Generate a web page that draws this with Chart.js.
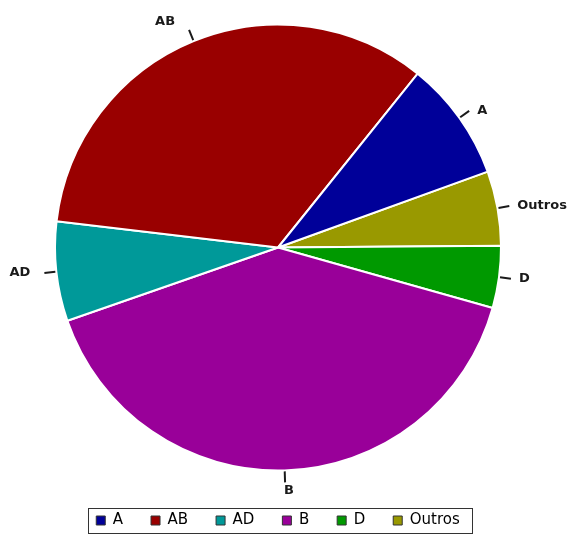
<!DOCTYPE html>
<html>
<head>
<meta charset="utf-8">
<script src="https://cdn.jsdelivr.net/npm/chart.js@4.4.1/dist/chart.umd.min.js"></script>
<style>
  html, body { margin: 0; padding: 0; background: #fff; }
  #wrap { width: 574px; height: 539px; position: relative; }
</style>
</head>
<body>
<div id="wrap"><canvas id="pie"></canvas></div>
<script>
// === DADOS (em %) ===
const categorias = ['A', 'AB', 'AD', 'B', 'D', 'Outros'];
const valores    = [8.7, 33.9, 7.2, 40.3, 4.5, 5.4];
const cores      = ['#000099', '#990000', '#009999', '#990099', '#009900', '#999900'];

// o gráfico original corre no sentido anti-horário -> inverte para o Chart.js
const ordem = categorias.map((c, i) => i).reverse();

// === RÓTULOS FORA DA PIZZA (com tracinho) ===
const rotulosFora = {
  id: 'rotulosFora',
  afterDatasetsDraw(chart) {
    const ctx = chart.ctx;
    const meta = chart.getDatasetMeta(0);
    ctx.save();
    ctx.font = 'bold 13px "DejaVu Sans"';
    ctx.fillStyle = '#1a1a1a';
    ctx.strokeStyle = '#1a1a1a';
    ctx.lineWidth = 2;
    meta.data.forEach((arc, i) => {
      const p = arc.getProps(['x', 'y', 'startAngle', 'endAngle', 'outerRadius'], true);
      const mid = (p.startAngle + p.endAngle) / 2;
      const cx = Math.cos(mid), cy = Math.sin(mid);
      const r0 = p.outerRadius + 1, r1 = p.outerRadius + 12;
      const ex = p.x + cx * r1, ey = p.y + cy * r1;
      ctx.beginPath();
      ctx.moveTo(p.x + cx * r0, p.y + cy * r0);
      ctx.lineTo(ex, ey);
      ctx.stroke();

      let tx = ex, ty = ey;
      if (cx > 0.2) { ctx.textAlign = 'left'; tx += 8; }
      else if (cx < -0.2) { ctx.textAlign = 'right'; tx -= 14; }
      else { ctx.textAlign = 'center'; tx += 4; }
      if (Math.abs(cy) > 0.8) ty += 8 * Math.sign(cy);
      ctx.textBaseline = 'middle';
      ctx.fillText(chart.data.labels[i], tx, ty);
    });
    ctx.restore();
  }
};

// === MOLDURA DA LEGENDA ===
const molduraLegenda = {
  id: 'molduraLegenda',
  afterDraw(chart) {
    const hb = chart.legend && chart.legend.legendHitBoxes;
    if (!hb || !hb.length) return;
    const left = Math.min(...hb.map(h => h.left)) - 8;
    const right = Math.max(...hb.map(h => h.left + h.width)) + 13;
    const top = Math.min(...hb.map(h => h.top)) - 5;
    const bottom = Math.max(...hb.map(h => h.top + h.height)) + 5;
    const ctx = chart.ctx;
    ctx.save();
    ctx.strokeStyle = '#333';
    ctx.lineWidth = 1;
    ctx.strokeRect(Math.round(left) + 0.5, Math.round(top) + 0.5, Math.round(right - left), Math.round(bottom - top));
    ctx.restore();
  }
};

new Chart(document.getElementById('pie'), {
  type: 'pie',
  data: {
    labels: ordem.map(i => categorias[i]),
    datasets: [{
      data: ordem.map(i => valores[i]),
      backgroundColor: ordem.map(i => cores[i]),
      borderColor: '#ffffff',
      borderWidth: 2
    }]
  },
  options: {
    responsive: true,
    maintainAspectRatio: false,
    animation: false,
    rotation: 70.1,
    radius: 223,
    layout: { padding: { top: 10, left: 0, right: 18, bottom: 1 } },
    plugins: {
      tooltip: { enabled: false },
      legend: {
        position: 'bottom',
        reverse: true,
        labels: {
          boxWidth: 9,
          boxHeight: 9,
          padding: 28,
          color: '#000',
          font: { family: '"DejaVu Sans"', size: 15 },
          generateLabels(chart) {
            const ds = chart.data.datasets[0];
            return chart.data.labels.map((l, i) => ({
              text: l,
              fillStyle: ds.backgroundColor[i],
              strokeStyle: '#333',
              lineWidth: 1,
              index: i,
              hidden: false
            }));
          }
        }
      }
    }
  },
  plugins: [rotulosFora, molduraLegenda]
});
</script>
</body>
</html>
